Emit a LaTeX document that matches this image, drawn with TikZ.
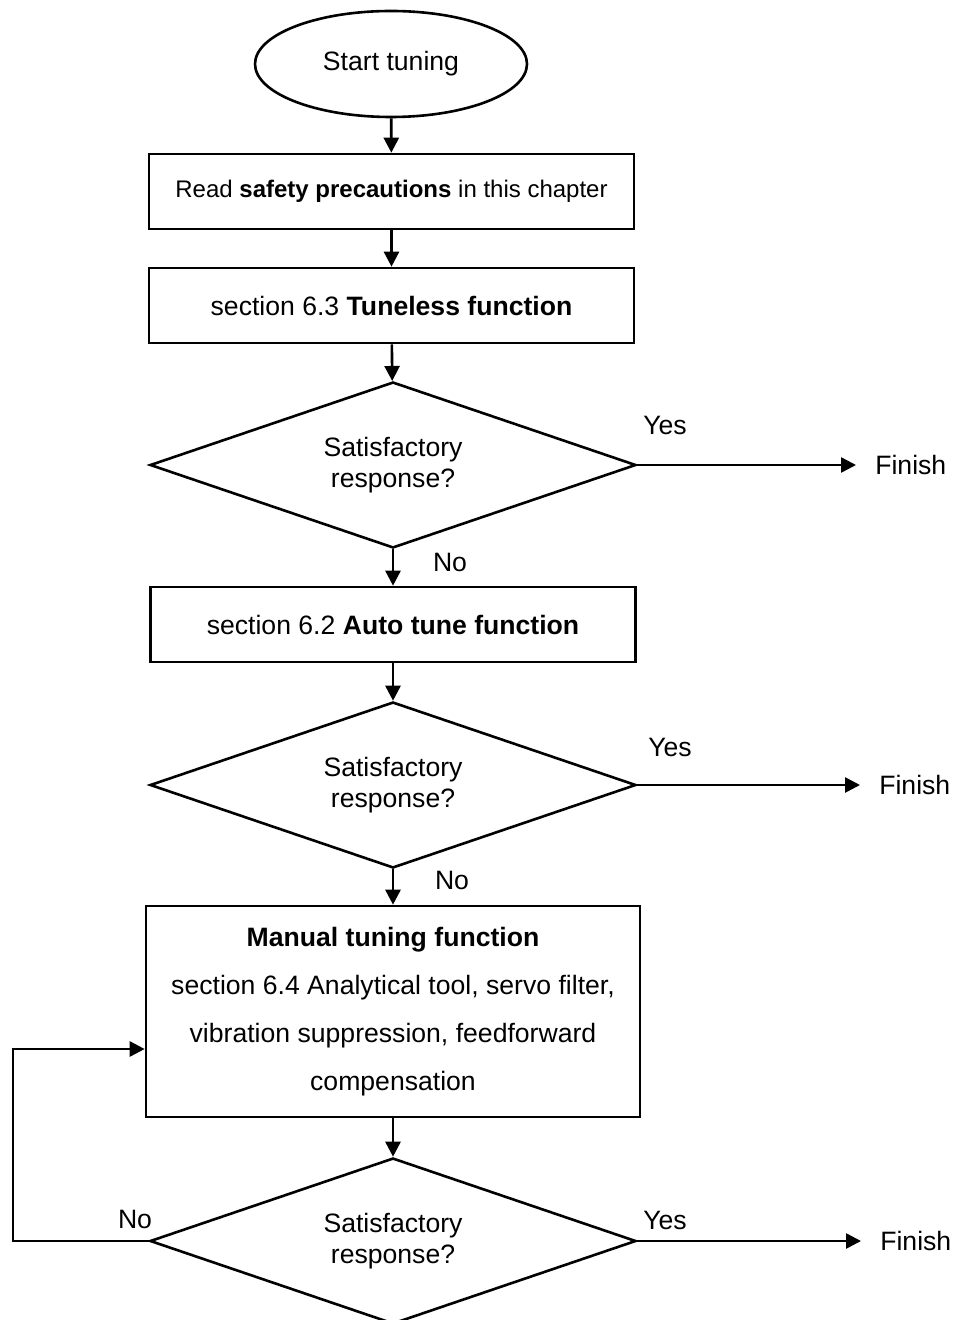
\documentclass[tikz,border=0pt]{standalone}
\usepackage{fontspec}
\setmainfont{Liberation Sans}
\usetikzlibrary{shapes.geometric,arrows.meta}

\begin{document}
\begin{tikzpicture}[x=0.5pt, y=-0.5pt, >={Triangle[length=7.5pt,width=7.5pt]}, line width=1.3pt,
        txt/.style={font=\fontsize{13.3}{15.5}\selectfont, align=center},
        stepbox/.style={draw, txt, minimum width=242.5pt, minimum height=37.5pt, inner sep=0pt},
        decision/.style={draw, diamond, txt, aspect=2.9, inner sep=0pt, minimum width=243pt, minimum height=83pt,
            execute at begin node=\rule{0pt}{14pt}},
        lbl/.style={txt, inner sep=0pt},
        finish/.style={txt, anchor=west, inner xsep=9pt, inner ysep=0pt}]
        \useasboundingbox (0,0) rectangle (953,1320);

        % Start
        \node[draw, ellipse, txt, minimum width=136pt, minimum height=53pt, inner sep=0pt] (start) at (391,64) {Start tuning};

        % First two steps
        \node[stepbox, font=\fontsize{12}{14}\selectfont] (read) at (391.5,191.5) {Read \textbf{safety precautions} in this chapter};
        \node[stepbox] (tuneless) at (391.5,305.5) {section 6.3 \textbf{Tuneless function}};
        \draw[->] (start) -- (read);
        \draw[->] (read) -- (tuneless);

        % First check
        \node[decision] (check1) at (393,465) {Satisfactory\\response?};
        \node[finish] (fin1) at (856,465) {Finish};
        \draw[->] (tuneless) -- (check1);
        \draw[->] (check1.east) -- (fin1.west);
        \node[lbl] (yes1) at (665,425) {Yes};
        \node[lbl] (no1) at (450,562) {No};

        % Auto tune
        \node[stepbox] (auto) at (393,624.5) {section 6.2 \textbf{Auto tune function}};
        \draw[->] (check1) -- (auto);

        % Second check
        \node[decision] (check2) at (393,785) {Satisfactory\\response?};
        \node[finish] (fin2) at (860,785) {Finish};
        \draw[->] (auto) -- (check2);
        \draw[->] (check2.east) -- (fin2.west);
        \node[lbl] (yes2) at (670,747) {Yes};
        \node[lbl] (no2) at (452,880) {No};

        % Manual tuning
        \node[draw, txt, font=\fontsize{13.3}{24}\selectfont, minimum width=247pt, minimum height=105.5pt, inner sep=0pt] (manual) at (393,1011.5)
            {\textbf{Manual tuning function}\\section 6.4 Analytical tool, servo filter,\\vibration suppression, feedforward\\compensation};
        \draw[->] (check2) -- (manual);

        % Third check with loop back
        \node[decision] (check3) at (393,1241) {Satisfactory\\response?};
        \node[finish] (fin3) at (861,1241) {Finish};
        \draw[->] (manual) -- (check3);
        \draw[->] (check3.east) -- (fin3.west);
        \node[lbl] (yes3) at (665,1220) {Yes};
        \node[lbl] (no3) at (135,1219) {No};
        \coordinate (back) at (13,1049);
        \draw[->] (check3.west) -| (back) -- (manual.west |- back);
    \end{tikzpicture}
\end{document}
